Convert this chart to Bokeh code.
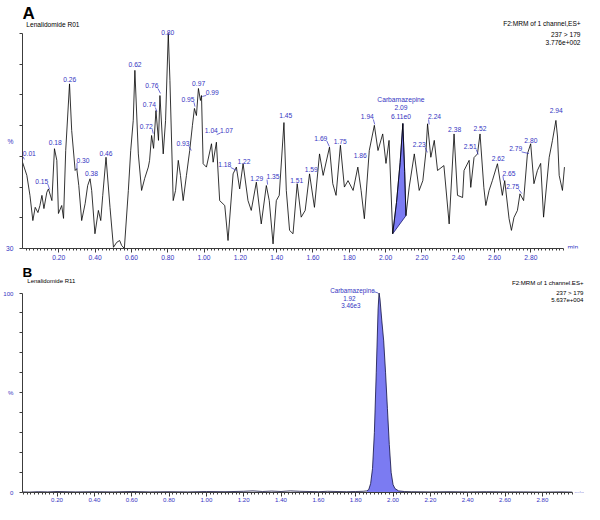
from bokeh.plotting import figure
from bokeh.models import ColumnDataSource, FixedTicker, PrintfTickFormatter, Label, Range1d
from bokeh.layouts import column
from bokeh.embed import file_html
from bokeh.resources import INLINE
from bokeh.core.properties import value

FONT = "Liberation Sans"
BLUE = "#3434c2"
AXIS = "#3c3c3c"
FILL = "#7b7bf2"

# ---------------- Panel A data (Lenalidomide R01) ----------------
a_time = [0.000,0.024,0.041,0.057,0.070,0.085,0.096,0.107,0.118,0.134,
          0.143,0.162,0.176,0.189,0.198,0.216,0.226,0.238,0.259,0.271,
          0.290,0.299,0.310,0.326,0.345,0.359,0.372,0.381,0.399,0.418,
          0.431,0.442,0.460,0.482,0.501,0.519,0.535,0.546,0.561,0.583,
          0.596,0.610,0.619,0.638,0.656,0.673,0.693,0.700,0.711,0.722,
          0.735,0.749,0.757,0.775,0.788,0.803,0.812,0.830,0.843,0.858,
          0.870,0.885,0.903,0.921,0.936,0.947,0.958,0.969,0.980,0.986,
          0.995,1.013,1.041,1.050,1.068,1.086,1.114,1.132,1.160,1.178,
          1.196,1.215,1.242,1.260,1.288,1.315,1.343,1.359,1.380,1.398,
          1.414,1.440,1.453,1.471,1.490,1.513,1.535,1.557,1.581,1.608,
          1.636,1.656,1.691,1.709,1.727,1.751,1.773,1.793,1.821,1.847,
          1.865,1.883,1.910,1.938,1.958,1.984,2.002,2.019,2.039,2.060,
          2.080,2.095,2.105,2.112,2.130,2.158,2.185,2.205,2.222,2.231,
          2.249,2.268,2.286,2.321,2.350,2.377,2.396,2.424,2.432,2.460,
          2.469,2.487,2.506,2.520,2.541,2.552,2.570,2.588,2.616,2.643,
          2.656,2.680,2.693,2.707,2.726,2.740,2.760,2.781,2.799,2.817,
          2.836,2.854,2.870,2.901,2.919,2.938,2.947,2.956,2.974,2.985]
a_pct = [58.1,53.8,47.3,39.1,43.4,41.7,44.0,47.3,43.0,48.3,
         49.4,45.6,62.5,58.7,41.4,44.0,39.8,61.9,83.6,68.4,
         55.4,56.0,50.5,39.1,44.6,50.5,52.7,48.9,34.8,42.4,
         39.1,47.3,59.7,43.4,30.4,32.0,32.6,31.0,30.0,48.9,
         61.9,71.7,88.0,60.8,48.9,52.8,56.5,58.7,66.8,62.6,
         74.9,65.2,79.8,60.8,71.7,100.0,84.7,45.6,48.9,58.7,
         53.8,45.6,53.8,61.9,70.1,75.6,73.3,82.1,78.2,79.8,
         57.6,56.5,64.1,58.1,64.6,45.6,44.0,32.6,54.3,56.5,
         49.4,57.6,45.6,42.4,51.6,38.0,50.5,45.6,31.5,45.6,
         47.3,71.0,48.9,35.9,34.8,51.1,40.2,42.4,54.3,43.4,
         60.8,53.8,63.0,51.1,47.3,63.6,50.0,52.1,48.9,56.5,
         48.9,39.7,61.9,70.1,61.9,67.3,57.7,65.2,34.8,45.0,
         58.0,70.7,55.0,40.7,50.0,60.8,48.9,52.1,61.4,70.6,
         59.7,65.2,55.4,57.0,38.0,67.3,47.3,46.6,55.4,58.7,
         49.9,59.6,60.8,67.3,49.9,44.0,48.9,52.1,57.6,47.3,
         52.1,39.7,35.9,40.1,42.4,47.8,45.6,60.8,64.1,51.1,
         55.4,57.7,40.2,59.7,65.2,71.7,66.3,53.8,48.9,56.5]
assert len(a_time) == len(a_pct)

# integration limits of the Carbamazepine peak in A
a_int_start, a_int_end = 2.039, 2.112

a_peak_text = ["0.01","0.15","0.18","0.26","0.30","0.38","0.46","0.62","0.72","0.74",
               "0.76","0.80","0.93","0.95","0.97","0.99","1.04","1.07","1.18","1.22",
               "1.29","1.35","1.45","1.51","1.59","1.69","1.75","1.86","1.94","2.23",
               "2.24","2.38","2.51","2.52","2.62","2.65","2.75","2.79","2.80","2.94"]
a_peak_pct = [59.0,49.2,62.9,83.4,55.7,53.1,59.5,88.3,67.4,74.6,
              80.5,100.0,61.9,76.2,82.4,79.5,67.1,67.1,55.4,57.0,
              51.2,50.8,71.8,50.7,54.2,63.2,63.4,58.8,70.4,61.3,
              70.4,67.4,60.6,67.5,57.7,52.1,47.9,60.9,63.8,73.4]
# label placement relative to the apex (screen px) -- style only
a_peak_dx = [5,-8,0,0,6,0,0,0,-7,-7.5,
             -8.6,0,-8.4,-7,0,10,0,9.7,-12,0,
             0,5.4,0,0,0,-8.5,0,0,-7.4,-8.2,
             5.4,0,-8,0,0,5.3,-9,-13.4,0,0]
a_peak_dy = [-5.5,-8.5,-4.5,-4.5,-9.5,-4.5,-4.5,-4.5,-7.5,-7,
             -8,-1.5,-7,-7.3,-4.5,-4,-4.5,-4.5,-6,-4.5,
             -4.5,-8,-4.5,-4.5,-4.5,-8.5,-4.5,-4.5,-8,-7.8,
             -8,-4.5,-8,-4.5,-4.5,-7.5,-7,-4.7,-4.5,-4.5]

a_cmp_name, a_cmp_rt, a_cmp_area = "Carbamazepine", "2.09", "6.11e0"
a_title = "Lenalidomide R01"
a_header = ["F2:MRM of 1 channel,ES+", "237 > 179", "3.776e+002"]

# ---------------- Panel B data (Lenalidomide R11) ----------------
b_time = [0.015,0.05,0.10,0.15,0.20,0.30,0.40,0.50,0.60,0.70,
          0.80,0.90,1.00,1.10,1.20,1.25,1.30,1.35,1.40,1.45,
          1.50,1.55,1.60,1.65,1.70,1.75,1.80,1.84,1.86,1.87,
          1.88,1.89,1.90,1.91,1.92,1.925,1.93,1.94,1.95,1.96,
          1.97,1.98,1.99,2.00,2.01,2.03,2.06,2.10,2.20,2.30,
          2.40,2.50,2.60,2.70,2.80,2.90,2.96]
b_pct = [0.3,0.2,0.4,0.3,0.5,0.3,0.4,0.3,0.5,0.3,
         0.4,0.3,0.5,0.4,0.6,0.8,0.5,0.7,0.5,0.8,
         0.6,0.5,0.4,0.6,0.5,0.4,0.5,0.6,0.8,1.5,
         4.5,12,30,60,92,100,97,86,76,60,
         42,24,10,4,2,0.8,0.5,0.4,0.3,0.4,
         0.3,0.4,0.3,0.3,0.2,0.3,0.2]
assert len(b_time) == len(b_pct)
b_int_start, b_int_end = 1.86, 2.06
b_cmp_name, b_cmp_rt, b_cmp_area = "Carbamazepine", "1.92", "3.46e3"
b_title = "Lenalidomide R11"
b_header = ["F2:MRM of 1 channel,ES+", "237 > 179", "5.637e+004"]

x_major = [round(0.2 * k, 2) for k in range(1, 15)]
x_minor = [round(0.02 * k, 2) for k in range(1, 150)]

W = 584


def base_fig(h, xr, yr, left, bottom):
    p = figure(width=W, height=h, x_range=xr, y_range=yr, output_backend="svg",
               toolbar_location=None, title=None, min_border_left=left,
               min_border_right=0, min_border_top=0, min_border_bottom=bottom)
    p.xgrid.visible = False
    p.ygrid.visible = False
    p.outline_line_color = None
    p.background_fill_color = "white"
    p.border_fill_color = "white"
    return p


def strip_fig(h):
    p = figure(width=W, height=h, x_range=Range1d(0, W), y_range=Range1d(h, 0),
               output_backend="svg", toolbar_location=None, title=None,
               x_axis_type=None, y_axis_type=None, min_border=0)
    p.xgrid.visible = False
    p.ygrid.visible = False
    p.outline_line_color = None
    p.background_fill_color = "white"
    p.border_fill_color = "white"
    return p


def strip_text(p, x, y, text, size, align="left", bold=False):
    p.text(x=[x], y=[y], text=[text], text_font=value(FONT), text_font_size=value(size),
           text_align=align, text_baseline="alphabetic", text_color="black",
           text_font_style="bold" if bold else "normal")


def style_axis(ax, size):
    ax.axis_line_color = AXIS
    ax.axis_line_width = 1
    ax.major_tick_line_color = AXIS
    ax.minor_tick_line_color = AXIS
    ax.major_tick_in = 0
    ax.minor_tick_in = 0
    ax.major_label_text_font = FONT
    ax.major_label_text_font_size = size
    ax.major_label_text_color = BLUE


def add_label(p, x, y, text, size, align="left", baseline="middle", color="black"):
    p.add_layout(Label(x=x, y=y, text=text, text_font=FONT, text_font_size=size,
                       text_align=align, text_baseline=baseline, text_color=color))


# ======================= Strip above A =======================
sA = strip_fig(27)
strip_text(sA, 0, 12.7, "A", "17px", bold=True)
strip_text(sA, 4, 23.5, a_title, "6.6px")
strip_text(sA, 580, 22.5, a_header[0], "6.6px", align="right")

# ======================= Panel A =======================
HA = 235
A_LEFT, A_BOTTOM = 21, 14
A_AXIS_END_PX = 563
A_TOP_PX = 6
A_TMIN, A_TMAX = 0.0, 2.98
A_PMIN, A_PMAX = 30, 100
a_sx = (A_AXIS_END_PX - A_LEFT) / (A_TMAX - A_TMIN)
a_fh = HA - A_BOTTOM
a_sy = (a_fh - A_TOP_PX) / (A_PMAX - A_PMIN)
a_xr = (A_TMIN, A_TMIN + (W - A_LEFT) / a_sx)
a_yr = (A_PMIN, A_PMAX + A_TOP_PX / a_sy)


def a_tx(xf):
    return A_TMIN + (xf - A_LEFT) / a_sx


def a_py(yf):
    return A_PMIN + (a_fh - yf) / a_sy


pA = base_fig(HA, a_xr, a_yr, A_LEFT, A_BOTTOM)

fa_t = [t for t in a_time if a_int_start <= t <= a_int_end]
fa_p = [v for t, v in zip(a_time, a_pct) if a_int_start <= t <= a_int_end]
pA.patch(fa_t, fa_p, fill_color=FILL, line_color="#1c1c70", line_width=0.8)
pA.line(a_time, a_pct, line_color="black", line_width=0.8)

xa = pA.xaxis[0]
style_axis(xa, "6.7px")
xa.bounds = (A_TMIN, A_TMAX)
xa.ticker = FixedTicker(ticks=x_major, minor_ticks=x_minor)
xa.formatter = PrintfTickFormatter(format="%.2f")
xa.major_tick_out = 4
xa.minor_tick_out = 2
xa.major_label_standoff = 2

ya = pA.yaxis[0]
style_axis(ya, "6.7px")
ya.bounds = (A_PMIN, A_PMAX)
ya.ticker = FixedTicker(ticks=[30, 65], minor_ticks=list(range(30, 101, 10)))
ya.major_label_overrides = {30: "30", 65: "%"}
ya.major_tick_line_color = None
ya.minor_tick_out = 3
ya.major_label_standoff = 3

ax_x = [float(s) for s in a_peak_text]
srcA = ColumnDataSource(dict(x=ax_x, y=a_peak_pct, text=a_peak_text, dx=a_peak_dx, dy=a_peak_dy))
pA.text(x="x", y="y", text="text", x_offset="dx", y_offset="dy", source=srcA,
        text_font=value(FONT), text_font_size=value("6.7px"), text_color=BLUE,
        text_align="center", text_baseline="middle")
l_x0, l_y0, l_x1, l_y1 = [], [], [], []
for x, y, dx, dy in zip(ax_x, a_peak_pct, a_peak_dx, a_peak_dy):
    if dx != 0:
        cx = dx + (6 if dx < 0 else -6)
        cy = dy + 3
        l_x0.append(x)
        l_y0.append(y)
        l_x1.append(x + cx / a_sx)
        l_y1.append(y - cy / a_sy)
pA.segment(l_x0, l_y0, l_x1, l_y1, line_color=BLUE, line_width=0.7)

a_apex = max(fa_p)
a_rt = float(a_cmp_rt)
for txt, dy in zip([a_cmp_name, a_cmp_rt, a_cmp_area], [-24, -15.5, -6.5]):
    add_label(pA, a_rt - 1 / a_sx, a_apex - dy / a_sy, txt, "6.7px", align="center", color=BLUE)

add_label(pA, a_tx(580), a_py(7), a_header[1], "6.6px", align="right", baseline="alphabetic")
add_label(pA, a_tx(580), a_py(14.5), a_header[2], "6.6px", align="right", baseline="alphabetic")
add_label(pA, a_tx(567), a_py(220), "min", "6.7px", baseline="alphabetic", color=BLUE)

# ======================= Strip above B =======================
sB = strip_fig(23)
strip_text(sB, 0, 10, "B", "13.5px", bold=True)
strip_text(sB, 5, 18, b_title, "6.0px")
strip_text(sB, 583, 19.5, b_header[0], "6.1px", align="right")

# ======================= Panel B =======================
HB = 219
B_LEFT, B_BOTTOM = 21, 12
B_TOP_PX = 7.5
B_TMIN, B_TMAX = 0.015, 2.96
B_PMIN, B_PMAX = 0, 100
b_sx = 187.0
b_fh = HB - B_BOTTOM
b_sy = (b_fh - B_TOP_PX) / (B_PMAX - B_PMIN)
b_xr = (B_TMIN, B_TMIN + (W - B_LEFT) / b_sx)
b_yr = (B_PMIN, B_PMAX + B_TOP_PX / b_sy)


def b_tx(xf):
    return B_TMIN + (xf - B_LEFT) / b_sx


def b_py(yf):
    return B_PMIN + (b_fh - yf) / b_sy


pB = base_fig(HB, b_xr, b_yr, B_LEFT, B_BOTTOM)

fb_t = [t for t in b_time if b_int_start <= t <= b_int_end]
fb_p = [v for t, v in zip(b_time, b_pct) if b_int_start <= t <= b_int_end]
pB.varea(x=fb_t, y1=[0] * len(fb_t), y2=fb_p, fill_color=FILL)
pB.line(b_time, b_pct, line_color="#101040", line_width=0.8)

xb = pB.xaxis[0]
style_axis(xb, "6.1px")
xb.bounds = (B_TMIN, B_TMAX)
xb.ticker = FixedTicker(ticks=x_major, minor_ticks=[t for t in x_minor if t <= B_TMAX])
xb.formatter = PrintfTickFormatter(format="%.2f")
xb.major_tick_out = 4
xb.minor_tick_out = 2
xb.major_label_standoff = 1

yb = pB.yaxis[0]
style_axis(yb, "6.1px")
yb.bounds = (B_PMIN, B_PMAX)
yb.ticker = FixedTicker(ticks=[0, 50, 100], minor_ticks=list(range(0, 101, 10)))
yb.major_label_overrides = {0: "0", 50: "%", 100: "100"}
yb.major_tick_line_color = None
yb.minor_tick_out = 3
yb.major_label_standoff = 3

b_apex = max(fb_p)
b_rt = float(b_cmp_rt)
for txt, dx, dy in zip([b_cmp_name, b_cmp_rt, b_cmp_area], [-25.7, -28.7, -27.3], [-2.5, 5.2, 12]):
    add_label(pB, b_rt + dx / b_sx, b_apex - dy / b_sy, txt, "6.3px", align="center", color=BLUE)
pB.segment([b_rt - 4.5 / b_sx], [b_apex + 1.5 / b_sy], [b_rt], [b_apex],
           line_color=BLUE, line_width=0.7)

add_label(pB, b_tx(583), b_py(7), b_header[1], "6.1px", align="right", baseline="alphabetic")
add_label(pB, b_tx(583), b_py(14.5), b_header[2], "6.1px", align="right", baseline="alphabetic")
add_label(pB, b_tx(574), b_py(206.5), "min", "6.1px", baseline="alphabetic", color=BLUE)

layout = column(sA, pA, sB, pB)
open("out.html", "w").write(file_html(layout, INLINE))
